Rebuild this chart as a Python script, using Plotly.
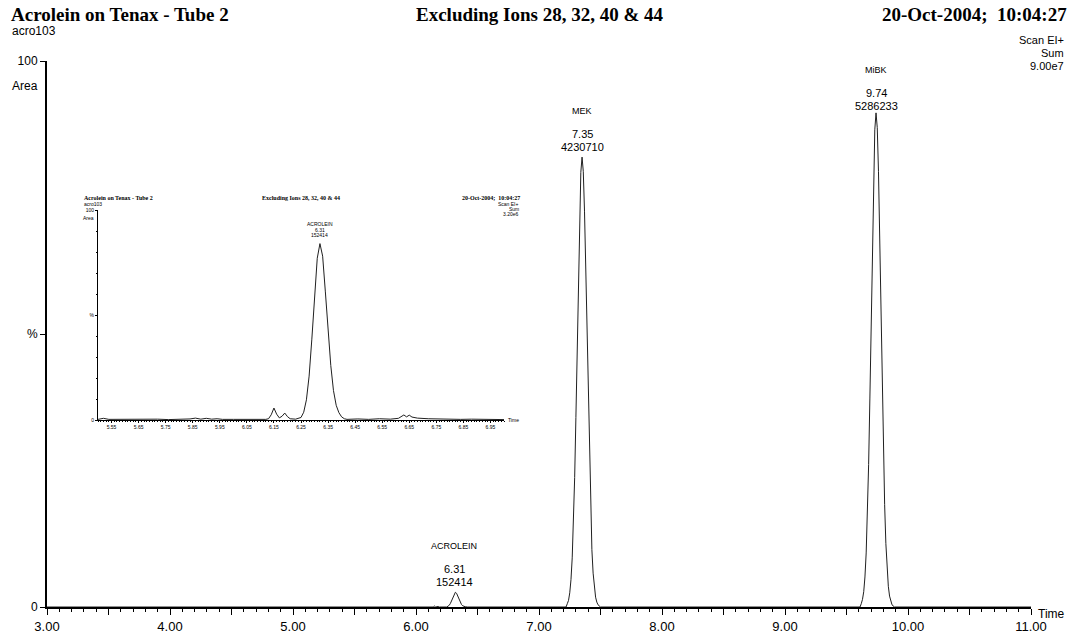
import plotly.graph_objects as go

# ---------------- data ----------------
# main chromatogram: retention time (min) vs % of full scale (9.00e7)
main_time = [3.00, 6.10, 6.14, 6.15, 6.16, 6.18, 6.19, 6.25,
             6.26, 6.27, 6.28, 6.29, 6.30, 6.31, 6.32, 6.33, 6.34, 6.35, 6.36, 6.37, 6.38, 6.39, 6.40, 6.42,
             7.22, 7.23, 7.24, 7.25, 7.26, 7.27, 7.28, 7.29, 7.30, 7.31, 7.32, 7.33, 7.34, 7.35,
             7.36, 7.37, 7.38, 7.39, 7.40, 7.41, 7.42, 7.43, 7.44, 7.45, 7.46, 7.47, 7.48, 7.50,
             9.61, 9.62, 9.63, 9.64, 9.65, 9.66, 9.67, 9.68, 9.69, 9.70, 9.71, 9.72, 9.73, 9.74,
             9.75, 9.76, 9.77, 9.78, 9.79, 9.80, 9.81, 9.82, 9.83, 9.84, 9.85, 9.86, 9.87, 9.89,
             11.00]
main_abund = [0.0, 0.0, 0.0, 0.18, 0.0, 0.1, 0.0, 0.0,
              0.12, 0.31, 0.67, 1.24, 1.91, 2.47, 2.70, 2.50, 1.95, 1.35, 0.83, 0.45, 0.22, 0.11, 0.05, 0.0,
              0.0, 0.6, 1.2, 2.6, 5.0, 9.0, 15.1, 23.7, 34.7, 47.4, 60.3, 71.8, 79.6, 82.4,
              79.8, 72.5, 61.5, 49.0, 37.0, 26.0, 17.0, 10.5, 6.2, 3.5, 1.8, 0.9, 0.4, 0.0,
              0.0, 0.6, 1.4, 2.8, 5.5, 9.9, 16.6, 26.1, 38.1, 52.0, 66.2, 78.8, 87.4, 90.5,
              87.8, 79.8, 67.6, 53.8, 40.5, 28.5, 18.8, 11.6, 6.8, 3.8, 2.0, 1.0, 0.4, 0.0,
              0.0]

# inset: expanded view around acrolein
inset_time = [5.50, 5.52, 5.54, 5.58, 5.62, 5.66, 5.68, 5.72, 5.76, 5.80, 5.84, 5.86, 5.88, 5.90,
              5.92, 5.94, 5.96, 6.00, 6.04, 6.08, 6.12, 6.13, 6.14, 6.15, 6.16, 6.17, 6.18, 6.19,
              6.20, 6.21, 6.23, 6.25, 6.26, 6.27, 6.28, 6.29, 6.30, 6.31, 6.32, 6.33, 6.34, 6.35,
              6.36, 6.37, 6.38, 6.39, 6.40, 6.41, 6.42, 6.46, 6.50, 6.54, 6.58, 6.61, 6.62, 6.63,
              6.64, 6.65, 6.66, 6.68, 6.72, 6.76, 6.80, 6.84, 6.88, 6.92, 6.96, 7.00]
inset_abund = [0.3, 0.8, 0.3, 0.4, 0.2, 0.6, 0.3, 0.4, 0.2, 0.3, 0.5, 0.9, 0.4, 0.8,
               0.4, 0.6, 0.3, 0.3, 0.2, 0.4, 0.3, 0.6, 2.5, 5.7, 2.8, 1.0, 1.8, 3.3,
               1.6, 0.6, 0.4, 1.2, 3.7, 9.6, 20.9, 38.5, 59.4, 77.0, 84.0, 78.0, 61.0, 42.0,
               26.0, 14.0, 7.0, 3.5, 1.5, 0.6, 0.3, 0.5, 0.3, 0.6, 0.4, 0.8, 1.8, 2.4,
               1.5, 2.3, 1.4, 0.9, 0.6, 0.4, 0.5, 0.3, 0.4, 0.3, 0.2, 0.2]

peak_names = ["ACROLEIN", "MEK", "MiBK"]
peak_rt = [6.31, 7.35, 9.74]
peak_area = ["152414", "4230710", "5286233"]

main_xticks = [3, 4, 5, 6, 7, 8, 9, 10, 11]
inset_xticks = [5.55, 5.65, 5.75, 5.85, 5.95, 6.05, 6.15, 6.25, 6.35, 6.45, 6.55, 6.65, 6.75, 6.85, 6.95]

# ---------------- layout helpers ----------------
W, H = 1077, 634
L, R, T, B = 47, 46, 61, 27
PW, PH = W - L - R, H - T - B


def px(x, y):
    return (x - L) / PW, (H - B - y) / PH


SANS = "Liberation Sans, Arial, sans-serif"
SERIF = "Liberation Serif, Times New Roman, serif"
INK = "#000000"

fig = go.Figure()
fig.add_trace(go.Scatter(x=main_time, y=main_abund, mode="lines",
                         line=dict(color="#202020", width=1), hoverinfo="skip",
                         xaxis="x", yaxis="y", showlegend=False))
fig.add_trace(go.Scatter(x=inset_time, y=inset_abund, mode="lines",
                         line=dict(color="#202020", width=1), hoverinfo="skip",
                         xaxis="x2", yaxis="y2", showlegend=False))

main_tv = []
main_tt = []
for v in main_xticks:
    main_tv.append(v)
    main_tt.append(f"{v:.2f}")
    if v < main_xticks[-1]:
        main_tv.append(v + 0.5)
        main_tt.append("")

ix0, iy0 = px(98, 420)
ix1, iy1 = px(504, 210)

fig.update_layout(
    width=W, height=H,
    margin=dict(l=L, r=R, t=T, b=B, pad=0, autoexpand=False),
    paper_bgcolor="white", plot_bgcolor="white",
    font=dict(family=SANS, color=INK, size=12),
    xaxis=dict(range=[3, 11], domain=[0, 1], showgrid=False, zeroline=False, automargin=False,
               showline=True, linecolor=INK, linewidth=2,
               tickmode="array", tickvals=main_tv, ticktext=main_tt,
               ticks="outside", ticklen=6, tickwidth=1, tickcolor=INK,
               tickfont=dict(family=SANS, size=13),
               minor=dict(tick0=3, dtick=0.1, ticks="outside", ticklen=3,
                          tickwidth=1, tickcolor=INK, showgrid=False)),
    yaxis=dict(range=[0, 100], domain=[0, 1], showgrid=False, zeroline=False, automargin=False,
               showline=True, linecolor=INK, linewidth=2,
               tickmode="array", tickvals=[0, 50, 100], ticktext=["0", "%", "100"],
               ticks="outside", ticklen=5, tickwidth=1, tickcolor=INK,
               tickfont=dict(family=SANS, size=12)),
    xaxis2=dict(range=[5.50, 7.00], domain=[ix0, ix1], anchor="y2", automargin=False,
                showgrid=False, zeroline=False, showline=True, linecolor=INK, linewidth=1,
                tickmode="array", tickvals=inset_xticks, ticktext=[f"{v:.2f}" for v in inset_xticks],
                ticks="outside", ticklen=2, tickwidth=1, tickcolor=INK,
                tickfont=dict(family=SANS, size=5),
                minor=dict(tick0=5.5, dtick=0.01, ticks="outside", ticklen=1,
                           tickwidth=1, tickcolor=INK, showgrid=False)),
    yaxis2=dict(range=[0, 100], domain=[iy0, iy1], anchor="x2", automargin=False,
                showgrid=False, zeroline=False, showline=True, linecolor=INK, linewidth=1,
                tickmode="array", tickvals=[0, 50, 100], ticktext=["0", "%", "100"],
                ticks="outside", ticklen=2, tickwidth=1, tickcolor=INK,
                tickfont=dict(family=SANS, size=5),
                minor=dict(tick0=0, dtick=10, ticks="outside", ticklen=1,
                           tickwidth=1, tickcolor=INK, showgrid=False)),
)

ann = []


def text(x, y, s, size=12, family=SANS, bold=False, xanchor="left"):
    xp, yp = px(x, y)
    if bold:
        s = f"<b>{s}</b>"
    ann.append(dict(x=xp, y=yp, xref="paper", yref="paper", text=s, showarrow=False,
                    xanchor=xanchor, yanchor="middle",
                    font=dict(family=family, size=size, color=INK)))


# main header
text(9, 14, "Acrolein on Tenax - Tube 2", 19, SERIF, True)
text(540, 14, "Excluding Ions 28, 32, 40 &amp; 44", 19, SERIF, True, "center")
text(1069, 14, "20-Oct-2004;  10:04:27", 19, SERIF, True, "right")
text(10, 31, "acro103", 12)
text(10, 86, "Area", 12)
text(1066, 40, "Scan EI+", 11, xanchor="right")
text(1066, 53, "Sum", 11, xanchor="right")
text(1066, 66, "9.00e7", 11, xanchor="right")
text(1036, 614, "Time", 12)

# main peak labels
apex_y = {"ACROLEIN": 592, "MEK": 157, "MiBK": 116}
for name, rt, area in zip(peak_names, peak_rt, peak_area):
    ay = apex_y[name]
    xp = (rt - 3) / 8
    for dy, s, sz in [(-46, name, 9), (-23, f"{rt:.2f}", 11), (-10, area, 11)]:
        _, yp = px(0, ay + dy)
        ann.append(dict(x=xp, y=yp, xref="paper", yref="paper", text=s, showarrow=False,
                        xanchor="center", yanchor="middle",
                        font=dict(family=SANS, size=sz, color=INK)))

# inset header (miniature copy)
text(82, 198, "Acrolein on Tenax - Tube 2", 6, SERIF, True)
text(301, 198, "Excluding Ions 28, 32, 40 &amp; 44", 6, SERIF, True, "center")
text(522, 198, "20-Oct-2004;  10:04:27", 6, SERIF, True, "right")
text(82, 204, "acro103", 5)
text(81, 218, "Area", 5)
text(521, 204, "Scan EI+", 5, xanchor="right")
text(521, 209, "Sum", 5, xanchor="right")
text(521, 214, "3.20e6", 5, xanchor="right")
text(506, 420, "Time", 5)
ixp = ix0 + (6.32 - 5.50) / 1.5 * (ix1 - ix0)
for dy, s in [(-20, "ACROLEIN"), (-14, "6.31"), (-9, "152414")]:
    _, yp = px(0, 244 + dy)
    ann.append(dict(x=ixp, y=yp, xref="paper", yref="paper", text=s, showarrow=False,
                    xanchor="center", yanchor="middle",
                    font=dict(family=SANS, size=5, color=INK)))

fig.update_layout(annotations=ann)
fig.write_html("out.html", config={"displayModeBar": False})

# remove the default page margin so the figure sits at the window origin
with open("out.html", "r", encoding="utf-8") as f:
    html = f.read()
html = html.replace("<head>", "<head><style>html,body{margin:0;padding:0;overflow:hidden;}</style>", 1)
with open("out.html", "w", encoding="utf-8") as f:
    f.write(html)
